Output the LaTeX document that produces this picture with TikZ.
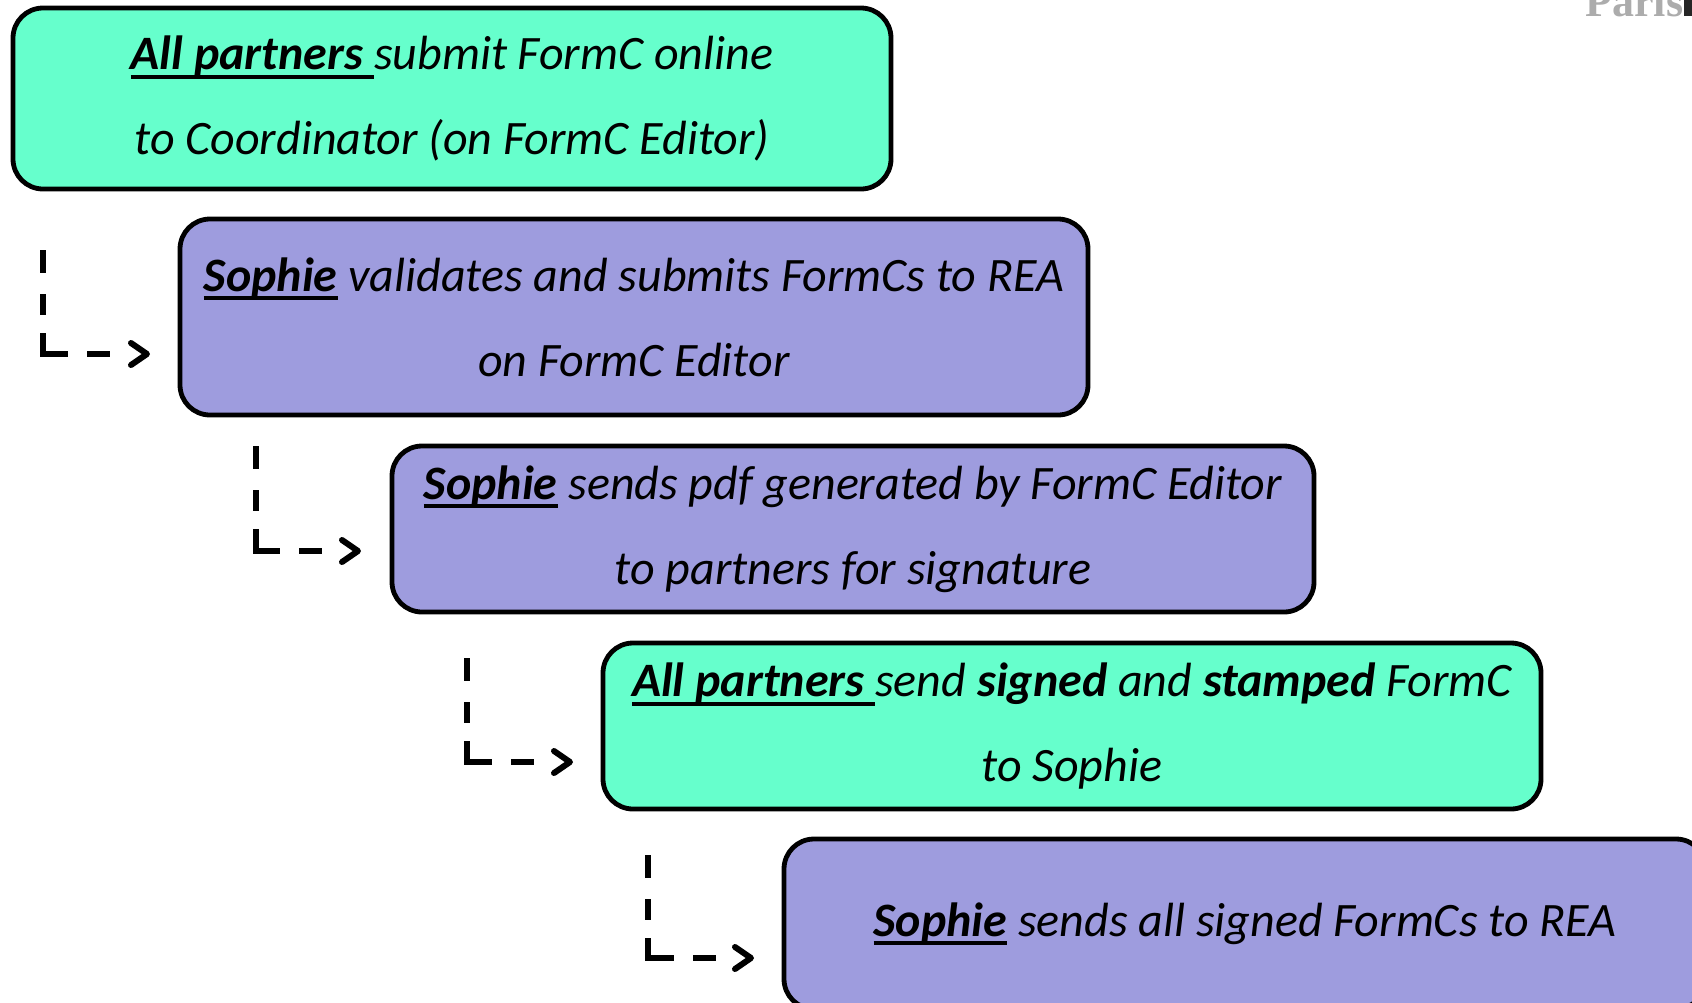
\documentclass[tikz,border=0pt]{standalone}
\usepackage{fontspec}
\setmainfont{Carlito}
\newfontfamily\logofont{Liberation Serif}
\usetikzlibrary{arrows.meta}
\definecolor{stepgreen}{RGB}{102,255,204}
\definecolor{steppurple}{RGB}{158,156,222}
% bold, thick underlined name
\newcommand{\who}[1]{\setbox0\hbox{\bfseries #1}\rlap{\rule[-4.6pt]{\wd0}{2pt}}\box0\relax}
\begin{document}
\begin{tikzpicture}[x=0.5pt,y=-0.5pt]
    \tikzstyle{step box}=[draw, line width=2.4pt, rounded corners=15pt, align=center, inner sep=0pt,
        font=\fontsize{24}{42.5}\selectfont\itshape];
    \tikzstyle{flow}=[line width=3pt, line join=miter,
        dash pattern=on 11.5pt off 10.5pt on 10.5pt off 9pt on 23pt off 9.5pt on 11.5pt off 30pt,
        -{Straight Barb[length=8pt,width=11pt,round]}];

    \clip (0,0) rectangle (1692,1002);

    \node[step box, fill=stepgreen, minimum width=878*0.5pt, minimum height=181*0.5pt] (b1) at (452,98.5)
        {\who{All partners\ }submit FormC online\\ to Coordinator (on FormC Editor)};
    \node[step box, fill=steppurple, minimum width=908*0.5pt, minimum height=196*0.5pt] (b2) at (634,317)
        {\who{Sophie} validates and submits FormCs to REA\\ on FormC Editor};
    \node[step box, fill=steppurple, minimum width=922*0.5pt, minimum height=166*0.5pt] (b3) at (853,529)
        {\who{Sophie} sends pdf generated by FormC Editor\\ to partners for signature};
    \node[step box, fill=stepgreen, minimum width=938*0.5pt, minimum height=166*0.5pt] (b4) at (1072,726)
        {\who{All partners\ }send \textbf{signed} and \textbf{stamped} FormC\\ to Sophie};
    \node[step box, fill=steppurple, minimum width=922*0.5pt, minimum height=170*0.5pt] (b5) at (1245,924)
        {\who{Sophie} sends all signed FormCs to REA};

    % corner of the logo
    \node[anchor=base west, inner sep=0pt, text=gray!65, font=\logofont\bfseries\fontsize{22}{22}\selectfont] (logo) at (1585,16) {Paris};
    \fill[black!85] (1684,0) rectangle (1692,16);

    \coordinate (s1) at (43,250);
    \coordinate (e1) at (150,354);
    \coordinate (s2) at (256,446);
    \coordinate (e2) at (361,551);
    \coordinate (s3) at (467,658);
    \coordinate (e3) at (573,762);
    \coordinate (s4) at (648,855);
    \coordinate (e4) at (754,958);

    \draw[flow] (s1) |- (e1);
    \draw[flow] (s2) |- (e2);
    \draw[flow] (s3) |- (e3);
    \draw[flow] (s4) |- (e4);

\end{tikzpicture}
\end{document}
